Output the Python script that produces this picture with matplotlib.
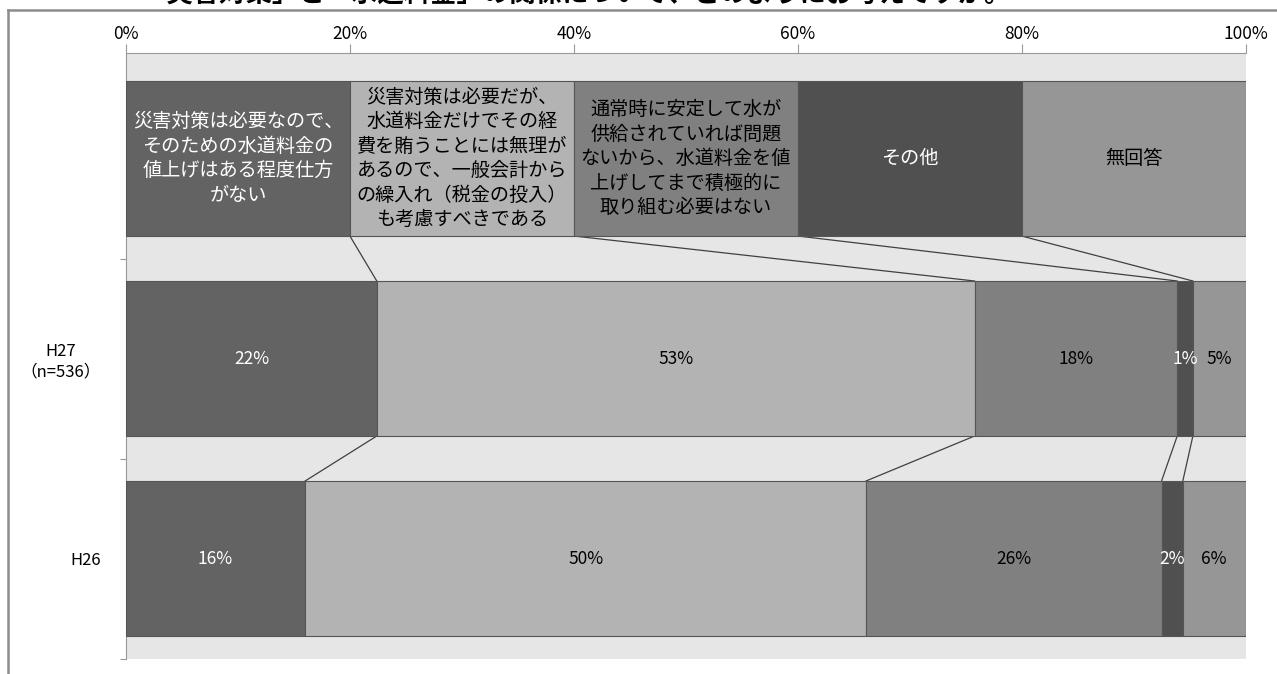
import matplotlib
matplotlib.use("Agg")
import matplotlib.pyplot as plt
import numpy as np

plt.rcParams['font.family'] = ['Noto Sans CJK JP', 'DejaVu Sans']

# data
answers = [
    "災害対策は必要なので、\nそのための水道料金の\n値上げはある程度仕方\nがない",
    "災害対策は必要だが、\n水道料金だけでその経\n費を賄うことには無理が\nあるので、一般会計から\nの繰入れ（税金の投入）\nも考慮すべきである",
    "通常時に安定して水が\n供給されていれば問題\nないから、水道料金を値\n上げしてまで積極的に\n取り組む必要はない",
    "その他",
    "無回答",
]
rows = ["", "H27\n（n=536）", "H26"]
legend_vals = [20, 20, 20, 20, 20]
h27 = [22.4, 53.4, 18.1, 1.4, 4.7]
h26 = [16.0, 50.1, 26.4, 1.9, 5.6]
pct_labels = [
    None,
    ["22%", "53%", "18%", "1%", "5%"],
    ["16%", "50%", "26%", "2%", "6%"],
]
title = "「災害対策」と「水道料金」の関係について、どのようにお考えですか。"

colors = ["#636363", "#b3b3b3", "#808080", "#505050", "#969696"]
text_colors = ["white", "black", "black", "white", "black"]

W, H = 1277, 674
fig = plt.figure(figsize=(W / 100, H / 100), dpi=100)

# outer frame fragments and the title of the page (cut at the top, as in the source)
fig.add_artist(plt.Line2D([8 / W, 1], [1 - 10 / H, 1 - 10 / H], color="#8c8c8c", lw=1.8))
fig.add_artist(plt.Line2D([8 / W, 8 / W], [0, 1 - 10 / H], color="#8c8c8c", lw=1.8))
fig.text(140 / W, 1 - 3 / H, title, fontsize=19, fontweight="bold", va="baseline", ha="left")

ax = fig.add_axes([126 / W, 1 - 659 / H, (1245.5 - 126) / W, (659 - 53) / H])
ax.set_facecolor("#e6e6e6")

data = [legend_vals, h27, h26]
bar_h = 0.775
for i, vals in enumerate(data):
    left = np.concatenate([[0], np.cumsum(vals)[:-1]])
    ax.barh(i, vals, left=left, height=bar_h, color=colors,
            edgecolor="#555555", linewidth=0.8, zorder=3)
    for j, v in enumerate(vals):
        cx = left[j] + v / 2
        if i == 0:
            ax.text(cx, i, answers[j], ha="center", va="center", fontsize=13.8,
                    color=text_colors[j], linespacing=1.22, zorder=4)
        else:
            ax.text(cx, i, pct_labels[i][j], ha="center", va="center", fontsize=12.5,
                    color=text_colors[j], zorder=4)

# series lines between bars
for i in range(len(data) - 1):
    c1 = np.cumsum(data[i])[:-1]
    c2 = np.cumsum(data[i + 1])[:-1]
    for a, b in zip(c1, c2):
        ax.plot([a, b], [i + bar_h / 2, i + 1 - bar_h / 2], color="#404040", lw=0.9, zorder=2)

ax.set_xlim(0, 100)
ax.set_ylim(2.5025, -0.5275)
ax.xaxis.tick_top()
ax.set_xticks(np.arange(0, 101, 20))
ax.set_xticklabels([f"{t}%" for t in range(0, 101, 20)], fontsize=12.5)
ax.tick_params(axis="x", direction="out", length=6.5, color="#999999", pad=1)

ax.set_yticks([0.5, 1.5, 2.5])
ax.set_yticklabels([])
ax.tick_params(axis="y", direction="out", length=4.5, color="#999999")
ax.set_yticks([0, 1, 2], minor=True)
ax.set_yticklabels(rows, minor=True, fontsize=12, multialignment="center")
ax.tick_params(axis="y", which="minor", length=0, pad=18)

for s in ["right", "bottom"]:
    ax.spines[s].set_visible(False)
for s in ["top", "left"]:
    ax.spines[s].set_color("#999999")

fig.savefig("out.png", dpi=100)
